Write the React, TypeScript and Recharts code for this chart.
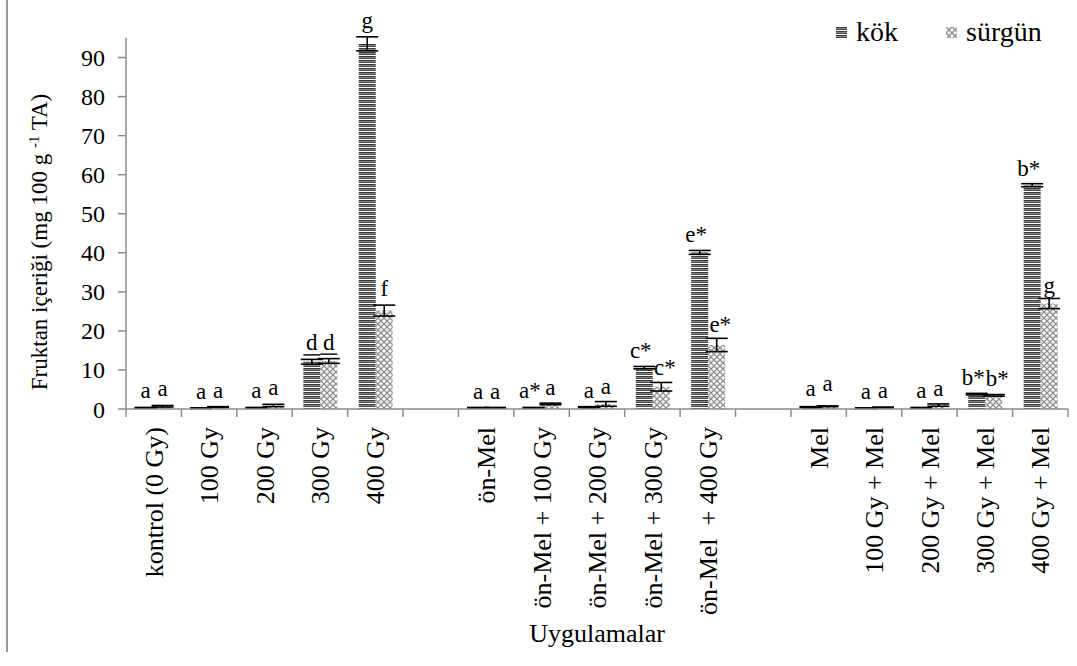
// Fruktan content per treatment — grouped patterned bars with error bars and letter marks.

import { BarChart, Bar, XAxis, YAxis, ErrorBar, LabelList, Legend } from 'recharts';

const W = 1077;
const H = 666;
const FONT = '"Liberation Serif", "Times New Roman", serif';
const Y_MAX = 95;
const MARGIN = { top: 38, right: 9, left: 0, bottom: 24 };
const Y_AXIS_W = 126;
const X_AXIS_H = 233;
const PLOT_H = H - MARGIN.top - MARGIN.bottom - X_AXIS_H;
const LETTER_SIZE = 23;

const categories = [
  'kontrol (0 Gy)', '100 Gy', '200 Gy', '300 Gy', '400 Gy', '',
  'ön-Mel', 'ön-Mel + 100 Gy', 'ön-Mel + 200 Gy', 'ön-Mel + 300 Gy', 'ön-Mel  + 400 Gy', '',
  'Mel', '100 Gy + Mel', '200 Gy + Mel', '300 Gy + Mel', '400 Gy + Mel',
];

const kok = [0.3, 0.2, 0.3, 12.1, 93.5, null, 0.3, 0.3, 0.5, 10.6, 40.1, null, 0.5, 0.2, 0.3, 3.8, 57.3];
const kokErr = [0.1, 0.1, 0.1, 0.6, 1.8, null, 0.1, 0.1, 0.1, 0.3, 0.5, null, 0.1, 0.1, 0.1, 0.2, 0.4];
const surgun = [0.7, 0.5, 0.9, 12.3, 25.2, null, 0.3, 1.3, 1.3, 5.7, 16.4, null, 0.7, 0.4, 1.0, 3.5, 27.0];
const surgunErr = [0.2, 0.1, 0.3, 0.6, 1.4, null, 0.1, 0.2, 0.6, 1.1, 1.7, null, 0.1, 0.1, 0.3, 0.2, 1.3];

const kokLetters = ['a', 'a', 'a', 'd', 'g', '', 'a', 'a*', 'a', 'c*', 'e*', '', 'a', 'a', 'a', 'b*', 'b*'];
const surgunLetters = ['a', 'a', 'a', 'd', 'f', '', 'a', 'a', 'a', 'c*', 'e*', '', 'a', 'a', 'a', 'b*', 'g'];
// 0 = none, 1 = single underline, 2 = double underline (first letter only)
const kokUnderline = [0, 0, 0, 1, 0, 0, 0, 0, 0, 0, 0, 0, 0, 0, 0, 0, 2];
const surgunUnderline = [0, 0, 0, 1, 0, 0, 0, 0, 0, 0, 0, 0, 0, 0, 0, 0, 0];

const yTicks = [0, 10, 20, 30, 40, 50, 60, 70, 80, 90];

const data = categories.map((name, i) => ({
  name,
  kok: kok[i],
  kokErr: kokErr[i],
  surgun: surgun[i],
  surgunErr: surgunErr[i],
  kokLetter: kokLetters[i],
  surgunLetter: surgunLetters[i],
}));

const SLOT = (W - MARGIN.left - MARGIN.right - Y_AXIS_W) / categories.length;
const pxPerUnit = PLOT_H / Y_MAX;

function Patterns({ prefix }: { prefix: string }) {
  return (
    <defs>
      <pattern id={`${prefix}kok`} patternUnits="userSpaceOnUse" width={6} height={4}>
        <rect x={0} y={0} width={6} height={1} fill="#3a3a3a" />
        <rect x={0} y={1} width={6} height={1} fill="#858585" />
        <rect x={0} y={2} width={6} height={1} fill="#4d4d4d" />
        <rect x={0} y={3} width={6} height={1} fill="#fff" />
      </pattern>
      <pattern id={`${prefix}surgun`} patternUnits="userSpaceOnUse" width={6} height={6}>
        <rect x={0} y={0} width={6} height={6} fill="#fff" />
        <path d="M0 0 L6 6 M6 0 L0 6" stroke="#8f8f8f" strokeWidth={1.3} />
        <rect x={2.5} y={0} width={1} height={1} fill="#bbb" />
      </pattern>
    </defs>
  );
}

// side: -1 pushes wide labels left (kök), +1 pushes them right (sürgün)
function makeLetterLabel(errs: (number | null)[], marks: number[], side: number) {
  return function LetterLabel(props: any) {
    const { x, y, width, value, index } = props;
    if (!value) return null;
    const bw = Number(width);
    const textW = value.length * LETTER_SIZE * 0.48;
    const shift = Math.max(0, (textW - bw) / 2 + 1) * side;
    const cx = Number(x) + bw / 2 + shift;
    const top = Number(y) - (errs[index] ?? 0) * pxPerUnit;
    const base = top - 9;
    const mark = marks[index];
    return (
      <g>
        <text x={cx} y={base} textAnchor="middle" fontFamily={FONT} fontSize={LETTER_SIZE} fill="#000">
          {value}
        </text>
        {mark === 1 && (
          <line x1={cx - 8.5} x2={cx + 8.5} y1={base + 4.5} y2={base + 4.5} stroke="#000" strokeWidth={1.4} />
        )}
        {mark === 2 && (
          <g stroke="#000" strokeWidth={1.1}>
            <line x1={cx - textW / 2} x2={cx - textW / 2 + 12} y1={base + 3.5} y2={base + 3.5} />
            <line x1={cx - textW / 2} x2={cx - textW / 2 + 12} y1={base + 6.5} y2={base + 6.5} />
          </g>
        )}
      </g>
    );
  };
}

function XTick(props: any) {
  const { x, y, payload, index } = props;
  const axisY = y - 18;
  const left = x - SLOT / 2;
  return (
    <g>
      <line x1={left} x2={left} y1={axisY} y2={axisY + 8} stroke="#8c8c8c" strokeWidth={1.5} />
      {index === categories.length - 1 && (
        <line x1={x + SLOT / 2} x2={x + SLOT / 2} y1={axisY} y2={axisY + 8} stroke="#8c8c8c" strokeWidth={1.5} />
      )}
      <text
        x={x}
        y={y}
        transform={`rotate(-90 ${x} ${y})`}
        textAnchor="end"
        dy="0.35em"
        fontFamily={FONT}
        fontSize={26}
        fill="#000"
        style={{ whiteSpace: 'pre' }}
      >
        {payload.value}
      </text>
    </g>
  );
}

function YTitle() {
  const cx = 39;
  const cy = 242;
  return (
    <text
      x={cx}
      y={cy}
      transform={`rotate(-90 ${cx} ${cy})`}
      textAnchor="middle"
      dy="0.35em"
      fontFamily={FONT}
      fontSize={23}
      fill="#000"
      style={{ whiteSpace: 'pre' }}
    >
      {'Fruktan içeriği (mg 100 g '}
      <tspan dy={-8} fontSize={15}>{'-1'}</tspan>
      <tspan dy={8}>{' TA)'}</tspan>
    </text>
  );
}

function LegendBox(props: any) {
  const items = props.payload ?? [];
  return (
    <div style={{ display: 'flex', alignItems: 'center', fontFamily: FONT, fontSize: 28, color: '#000', lineHeight: '32px' }}>
      {items.map((it: any) => (
        <div key={it.dataKey} style={{ display: 'flex', alignItems: 'center', marginRight: 48 }}>
          <svg width={11} height={11} style={{ marginRight: 9 }}>
            <Patterns prefix={`leg-${it.dataKey}-`} />
            <rect width={11} height={11} fill={`url(#leg-${it.dataKey}-${it.dataKey})`} />
          </svg>
          <span>{it.value}</span>
        </div>
      ))}
    </div>
  );
}

export default function App() {
  return (
    <div style={{ position: 'absolute', left: 0, top: 0, width: W, height: H, background: '#fff' }}>
      <div style={{ position: 'absolute', left: 6, top: 0, width: 2, height: 652, background: '#9a9a9a' }} />
      <BarChart
        width={W}
        height={H}
        data={data}
        margin={MARGIN}
        barCategoryGap="20%"
        barGap={0}
        style={{ fontFamily: FONT }}
      >
        <Patterns prefix="" />
        <XAxis
          dataKey="name"
          interval={0}
          height={X_AXIS_H}
          tickLine={false}
          tickSize={8}
          tickMargin={10}
          axisLine={{ stroke: '#8c8c8c', strokeWidth: 1.5 }}
          tick={<XTick />}
          label={{
            value: 'Uygulamalar',
            position: 'insideBottom',
            offset: 0,
            fontFamily: FONT,
            fontSize: 26,
            fill: '#000',
          }}
        />
        <YAxis
          width={Y_AXIS_W}
          domain={[0, Y_MAX]}
          ticks={yTicks}
          allowDataOverflow
          tickSize={8}
          tickMargin={13}
          axisLine={{ stroke: '#8c8c8c', strokeWidth: 1.5 }}
          tickLine={{ stroke: '#8c8c8c', strokeWidth: 1.5 }}
          tick={{ fontFamily: FONT, fontSize: 24, fill: '#000' }}
          label={<YTitle />}
        />
        <Legend
          verticalAlign="middle"
          align="center"
          layout="horizontal"
          wrapperStyle={{ top: 16, left: 836, width: 'auto', height: 'auto' }}
          content={<LegendBox />}
        />
        <Bar dataKey="kok" name="kök" fill="url(#kok)" isAnimationActive={false}>
          <ErrorBar dataKey="kokErr" width={11} stroke="#000" strokeWidth={1.6} />
          <LabelList dataKey="kokLetter" content={makeLetterLabel(kokErr, kokUnderline, -1)} />
        </Bar>
        <Bar dataKey="surgun" name="sürgün" fill="url(#surgun)" isAnimationActive={false}>
          <ErrorBar dataKey="surgunErr" width={11} stroke="#000" strokeWidth={1.6} />
          <LabelList dataKey="surgunLetter" content={makeLetterLabel(surgunErr, surgunUnderline, 1)} />
        </Bar>
      </BarChart>
    </div>
  );
}
